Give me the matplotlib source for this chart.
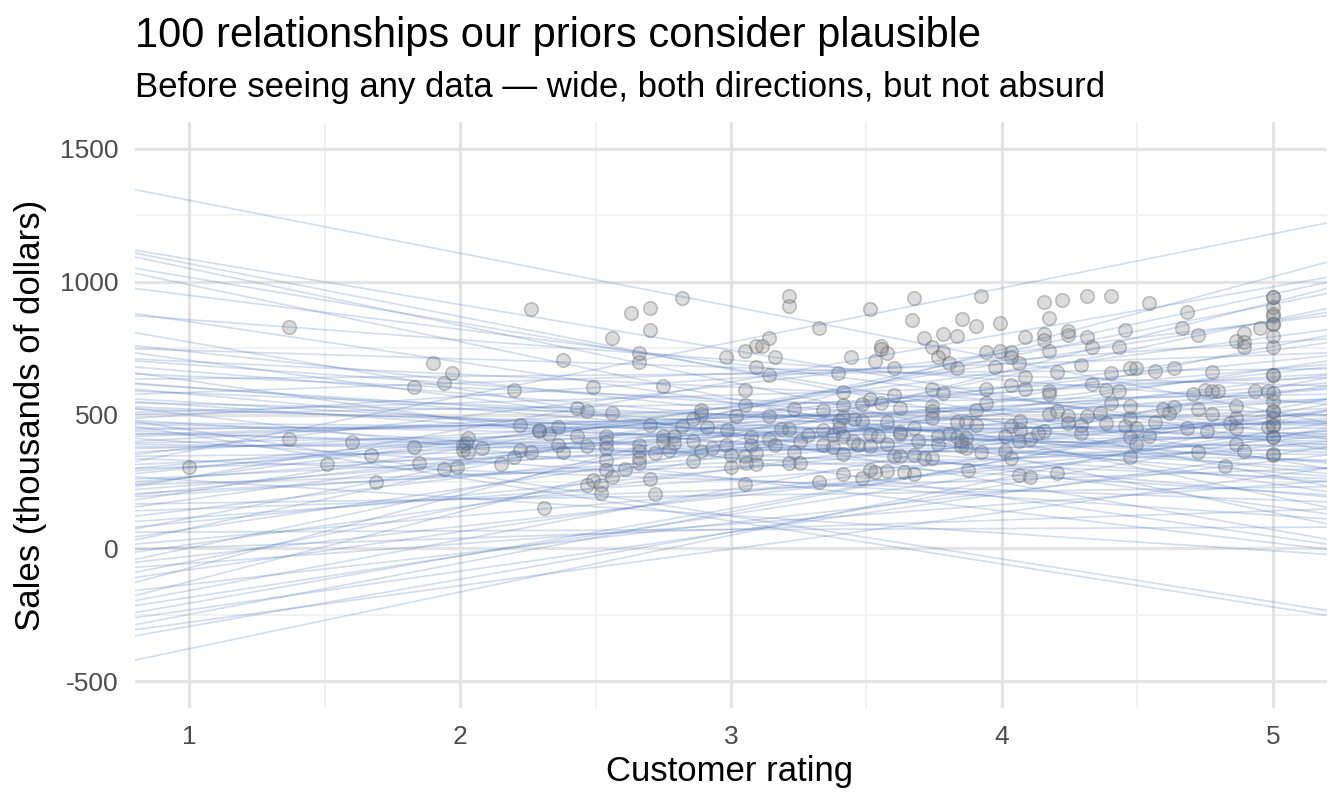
import matplotlib
matplotlib.use("Agg")
import matplotlib.pyplot as plt
import numpy as np

plt.rcParams['font.family'] = ['Liberation Sans', 'DejaVu Sans']

# ---- prior lines: value at left edge (rating 0.8) and right edge (rating 5.2)
line_left = [1346, 1119, 1108, 1093, 1051, 1032, 975, 881, 873, 809, 760, 749, 733, 703,
             658, 654, 635, 616, 597, 578, 525, 522, 503, 488, 476, 457, 450, 439, 427, 412, 401, 389, 374,
             352, 336, 325, 314, 299, 280, 268, 250, 238, 231, 193, 181, 166, 155,
             79, 72, 60, 42, 30, 15, -4, -15, -42, -53, -72, -91, -110, -129, -159, -178, -197,
             -216, -242, -261, -287, -306, -329, -420,
             470, 465, 445, 430, 420, 395, 380, 360, 345, 530, 545, 560, 590, 620, 680, 710,
             290, 260, 220, 205, 120, 100, 140, 480, 510, 550, 300, 240, 200]
line_right = [471, 369, 233, 153, 299, 91, 412, 212, 541, 34, 280, 609, 129, 389,
              15, 465, 673, 325, 193, 733, -4, 401, 578, 786, -234, -253, 450, 261, 552, 110, 654, 352, 476,
              873, 174, 1221, 525, 427, 722, -23, 597, 374, 1017, 488, 885, 231, 771,
              512, 956, 79, 703, 998, 401, 147, 609, 900, 441, 252, 798, 520, 1074, 350, 975, 640,
              470, 540, 380, 560, 300, 450, 517,
              430, 380, 500, 330, 560, 470, 420, 600, 390, 360, 460, 300, 410, 270, 320, 500,
              620, 480, 560, 440, 650, 420, 300, 200, 640, 250, 690, 820, 680]

# ---- observed stores
rating = [1.00, 1.37, 1.37, 1.51, 1.60, 1.67, 1.69, 1.83, 1.83, 1.85, 1.90, 1.94, 1.94, 1.97, 1.99,
          2.01, 2.01, 2.02, 2.03, 2.03, 2.08, 2.15, 2.20, 2.20, 2.22, 2.22, 2.26, 2.26, 2.29, 2.29, 2.31, 2.33,
          2.82, 2.70, 2.63, 2.70, 2.56, 2.66, 2.66, 2.98, 2.38, 2.49, 2.75, 2.43, 2.47, 2.56, 2.89, 2.89,
          2.86, 2.82, 2.91, 2.70, 2.36, 2.43, 2.54, 2.54, 2.54, 2.36, 2.38, 2.47, 2.66, 2.66, 2.66, 2.66,
          2.54, 2.75, 2.75, 2.79, 2.79, 2.77, 2.72, 2.86, 2.89, 2.93, 2.86, 2.98, 2.61, 2.54, 2.56, 2.49,
          2.47, 2.52, 2.52, 2.70, 2.72, 3.00,
          3.213, 3.213, 3.324, 3.513, 3.677, 3.669, 3.141, 3.092, 3.114, 3.052, 3.163, 3.092, 3.141,
          3.443, 3.554, 3.554, 3.575, 3.533, 3.603, 3.394, 3.052, 3.412, 3.052, 3.412, 3.234, 3.341,
          3.513, 3.554, 3.603, 3.624, 3.484, 3.020, 3.141, 3.412, 3.400, 3.455, 3.484, 3.575, 2.987,
          3.184, 3.213, 3.341, 3.400, 3.622, 3.622, 3.677, 3.073, 3.141, 3.163, 3.255, 3.283, 3.378,
          3.412, 3.449, 3.468, 3.513, 3.513, 3.542, 3.575, 3.073, 2.999, 3.052, 3.092, 3.234, 3.341,
          3.375, 3.412, 3.603, 3.624, 3.677, 3.055, 3.092, 3.213, 3.255, 3.513, 3.533, 3.575, 3.640,
          3.677, 3.412, 3.484, 3.324, 3.052,
          3.921, 4.155, 4.223, 4.314, 3.852, 3.903, 3.992, 4.173, 3.712, 3.782, 3.834, 4.084, 4.155,
          4.155, 4.244, 4.244, 4.314, 4.334, 3.741, 3.782, 3.764, 3.803, 3.834, 3.942, 3.992, 4.035,
          4.035, 4.062, 3.973, 4.173, 4.293, 4.203, 4.084, 4.032, 4.084, 4.173, 4.173, 4.334, 3.741,
          3.782, 3.942, 3.942, 3.903, 3.741, 3.741, 3.741, 3.834, 3.868, 3.903, 4.035, 4.065, 4.065,
          4.173, 4.203, 4.244, 4.244, 4.293, 4.293, 4.314, 4.361, 4.133, 4.155, 3.692, 3.764, 3.803,
          3.834, 3.850, 3.868, 3.764, 3.850, 3.868, 3.921, 4.010, 4.062, 4.102, 3.712, 3.741, 4.010,
          4.035, 3.875, 4.062, 4.102, 4.203,
          4.404, 4.544, 4.684, 4.454, 4.666, 4.725, 4.953, 4.895, 4.864, 4.895, 4.895, 4.433,
          4.404, 4.472, 4.494, 4.565, 4.635, 4.774, 4.384, 4.433, 4.404, 4.704, 4.750, 4.774, 4.799,
          4.934, 4.984, 4.472, 4.384, 4.454, 4.472, 4.494, 4.565, 4.593, 4.618, 4.635, 4.725, 4.774,
          4.864, 4.864, 4.842, 4.864, 4.684, 4.756, 4.544, 4.472, 4.494, 4.984, 4.864, 4.895, 4.725,
          4.472, 4.823,
          5.0, 5.0, 5.0, 5.0, 5.0, 5.0, 5.0, 5.0, 5.0, 5.0, 5.0, 5.0, 5.0, 5.0, 5.0, 5.0, 5.0, 5.0,
          5.0, 5.0, 5.0, 5.0]
sales = [306, 829, 410, 316, 400, 348, 250, 605, 378, 321, 694, 619, 298, 659, 304,
         388, 369, 395, 413, 360, 375, 316, 592, 344, 464, 369, 899, 360, 439, 444, 149, 428,
         940, 902, 882, 819, 788, 731, 699, 716, 707, 606, 609, 527, 514, 509, 517, 505,
         485, 457, 455, 464, 455, 423, 423, 398, 376, 386, 360, 383, 388, 363, 338, 319,
         331, 422, 401, 420, 395, 369, 357, 401, 363, 376, 329, 388, 296, 294, 268, 256,
         239, 239, 209, 260, 202, 306,
         946, 911, 826, 899, 940, 857, 788, 758, 760, 739, 716, 681, 651,
         716, 758, 748, 731, 704, 675, 656, 594, 586, 537, 537, 521, 518,
         559, 546, 575, 525, 542, 498, 496, 492, 477, 486, 479, 474, 445,
         448, 449, 442, 452, 437, 429, 452, 416, 410, 389, 404, 426, 426,
         423, 401, 389, 429, 382, 420, 391, 389, 351, 345, 357, 361, 389,
         380, 353, 345, 345, 351, 319, 316, 319, 319, 294, 285, 288, 285,
         279, 278, 263, 250, 240,
         947, 924, 930, 947, 859, 836, 845, 864, 789, 804, 796, 794, 804,
         782, 817, 802, 794, 754, 754, 738, 719, 695, 675, 738, 739, 738,
         719, 697, 681, 741, 687, 660, 644, 612, 599, 590, 578, 618, 597,
         584, 597, 544, 517, 533, 515, 489, 473, 473, 462, 460, 479, 443,
         502, 515, 496, 471, 462, 433, 498, 508, 433, 439, 401, 420, 429,
         416, 401, 414, 391, 382, 376, 361, 420, 404, 411, 338, 338, 363,
         338, 292, 275, 269, 282,
         946, 920, 886, 820, 826, 801, 826, 807, 779, 773, 754, 754,
         657, 675, 678, 666, 676, 663, 593, 590, 546, 580, 593, 590, 590,
         590, 590, 533, 471, 458, 489, 452, 474, 521, 508, 530, 523, 502,
         533, 489, 471, 452, 452, 439, 420, 416, 391, 454, 392, 363, 361,
         341, 307,
         943, 943, 905, 880, 873, 842, 842, 798, 754, 651, 651, 584, 552, 515,
         514, 489, 464, 458, 418, 416, 355, 350]

x_ticks = [1, 2, 3, 4, 5]
y_ticks = [-500, 0, 500, 1000, 1500]

W, H = 1344, 806
fig = plt.figure(figsize=(W / 100, H / 100), dpi=100)
ax = fig.add_axes([135 / W, 1 - 708 / H, (1327 - 135) / W, (708 - 122) / H])

ax.set_xlim(0.8, 5.2)
ax.set_ylim(-600, 1600)

grid_major = '#e4e4e4'
grid_minor = '#f1f1f1'
for xm in [1.5, 2.5, 3.5, 4.5]:
    ax.axvline(xm, color=grid_minor, lw=1.3, zorder=0)
for ym in [-250, 250, 750, 1250]:
    ax.axhline(ym, color=grid_minor, lw=1.3, zorder=0)
for xv in x_ticks:
    ax.axvline(xv, color=grid_major, lw=2.3, zorder=0)
for yv in y_ticks:
    ax.axhline(yv, color=grid_major, lw=2.3, zorder=0)

ax.scatter(rating, sales, s=95, facecolor=(0.5, 0.5, 0.5, 0.27),
           edgecolor=(0.42, 0.42, 0.42, 0.38), linewidth=1.2, zorder=2)

xl, xr = 0.8, 5.2
for a, b in zip(line_left, line_right):
    ax.plot([xl, xr], [a, b], color='#4a74bc', alpha=0.24, lw=1.25, zorder=3,
            solid_capstyle='butt')

for s in ax.spines.values():
    s.set_visible(False)
ax.tick_params(length=0, labelsize=19, colors='#4d4d4d')
ax.tick_params(axis='y', pad=12)
ax.tick_params(axis='x', pad=12)
ax.set_xticks(x_ticks)
ax.set_yticks(y_ticks)
ax.set_yticklabels([str(v) for v in y_ticks])

fig.text(31 / W, 1 - 415 / H, 'Sales (thousands of dollars)', rotation=90,
         ha='center', va='center', fontsize=25, color='black')
fig.text(730 / W, 1 - 772 / H, 'Customer rating', ha='center', va='center',
         fontsize=25, color='black')

fig.text(135 / W, 1 - 47 / H, '100 relationships our priors consider plausible',
         ha='left', va='baseline', fontsize=30, color='black')
fig.text(135 / W, 1 - 97 / H, 'Before seeing any data — wide, both directions, but not absurd',
         ha='left', va='baseline', fontsize=25, color='black')

fig.savefig('out.png', dpi=100)
